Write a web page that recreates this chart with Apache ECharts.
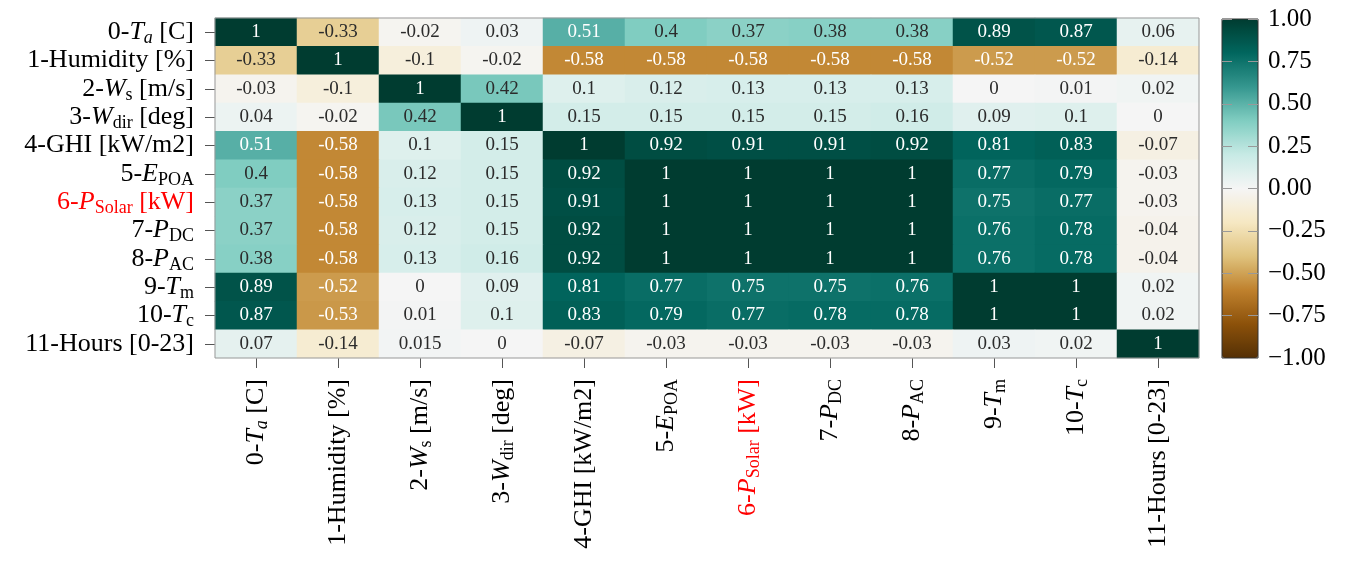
<!DOCTYPE html>
<html><head><meta charset="utf-8">
<script src="https://cdn.jsdelivr.net/npm/echarts@6/dist/echarts.min.js"></script>
<style>html,body{margin:0;padding:0;background:#fff}#c{width:1346px;height:564px}</style>
</head><body><div id="c"></div>
<script>
const categories = ['0-Ta [C]', '1-Humidity [%]', '2-Ws [m/s]', '3-Wdir [deg]', '4-GHI [kW/m2]', '5-EPOA', '6-PSolar [kW]', '7-PDC', '8-PAC', '9-Tm', '10-Tc', '11-Hours [0-23]'];
const categoryLabels = [
  '{n|0-}{i|T}{si|a}{n| [C]}',
  '{n|1-Humidity [%]}',
  '{n|2-}{i|W}{s|s}{n| [m/s]}',
  '{n|3-}{i|W}{s|dir}{n| [deg]}',
  '{n|4-GHI [kW/m2]}',
  '{n|5-}{i|E}{s|POA}',
  '{r|6-}{ri|P}{rs|Solar}{r| [kW]}',
  '{n|7-}{i|P}{s|DC}',
  '{n|8-}{i|P}{s|AC}',
  '{n|9-}{i|T}{s|m}',
  '{n|10-}{i|T}{s|c}',
  '{n|11-Hours [0-23]}'
];
const row0  = [1, -0.33, -0.02, 0.03, 0.51, 0.4, 0.37, 0.38, 0.38, 0.89, 0.87, 0.06];
const row1  = [-0.33, 1, -0.1, -0.02, -0.58, -0.58, -0.58, -0.58, -0.58, -0.52, -0.52, -0.14];
const row2  = [-0.03, -0.1, 1, 0.42, 0.1, 0.12, 0.13, 0.13, 0.13, 0, 0.01, 0.02];
const row3  = [0.04, -0.02, 0.42, 1, 0.15, 0.15, 0.15, 0.15, 0.16, 0.09, 0.1, 0];
const row4  = [0.51, -0.58, 0.1, 0.15, 1, 0.92, 0.91, 0.91, 0.92, 0.81, 0.83, -0.07];
const row5  = [0.4, -0.58, 0.12, 0.15, 0.92, 1, 1, 1, 1, 0.77, 0.79, -0.03];
const row6  = [0.37, -0.58, 0.13, 0.15, 0.91, 1, 1, 1, 1, 0.75, 0.77, -0.03];
const row7  = [0.37, -0.58, 0.12, 0.15, 0.92, 1, 1, 1, 1, 0.76, 0.78, -0.04];
const row8  = [0.38, -0.58, 0.13, 0.16, 0.92, 1, 1, 1, 1, 0.76, 0.78, -0.04];
const row9  = [0.89, -0.52, 0, 0.09, 0.81, 0.77, 0.75, 0.75, 0.76, 1, 1, 0.02];
const row10 = [0.87, -0.53, 0.01, 0.1, 0.83, 0.79, 0.77, 0.78, 0.78, 1, 1, 0.02];
const row11 = [0.07, -0.14, 0.015, 0, -0.07, -0.03, -0.03, -0.03, -0.03, 0.03, 0.02, 1];
const corr = [row0, row1, row2, row3, row4, row5, row6, row7, row8, row9, row10, row11];
const colorbarMin = -1, colorbarMax = 1, colorbarStep = 0.25;

const FONT = 'Liberation Serif';
const F = 26, FS = 18;
function richSet(){
  const base = {fontFamily: FONT, fontSize: F, color: '#000'};
  const sub = {fontFamily: FONT, fontSize: FS, color: '#000', padding: [12, 0, 0, 0]};
  return {
    n: base,
    i: Object.assign({}, base, {fontStyle: 'italic'}),
    s: sub,
    si: Object.assign({}, sub, {fontStyle: 'italic'}),
    r: Object.assign({}, base, {color: '#ff0000'}),
    ri: Object.assign({}, base, {color: '#ff0000', fontStyle: 'italic'}),
    rs: Object.assign({}, sub, {color: '#ff0000'})
  };
}
const BrBG = ['#543005','#8c510a','#bf812d','#dfc27d','#f6e8c3','#f5f5f5','#c7eae5','#80cdc1','#35978f','#01665e','#003c30'];

const data = [];
corr.forEach((row, y) => row.forEach((v, x) => {
  data.push({value: [x, y, v], label: {color: Math.abs(v) >= 0.5 ? '#ffffff' : '#2b2b2b'}});
}));

const chart = echarts.init(document.getElementById('c'), null, {renderer: 'canvas'});
chart.setOption({
  animation: false,
  backgroundColor: '#fff',
  grid: [
    {left: 215, top: 18, width: 984, height: 340, show: true, borderColor: '#999', borderWidth: 1, z: 10, backgroundColor: 'transparent'},
    {left: 1222, top: 19, width: 36, height: 339, show: true, borderColor: '#333', borderWidth: 1, z: 10, backgroundColor: 'transparent'}
  ],
  xAxis: [
    {type: 'category', gridIndex: 0, data: categories, position: 'bottom',
     axisLine: {show: false}, splitLine: {show: false},
     axisTick: {show: true, alignWithLabel: true, length: 10, lineStyle: {color: '#555'}},
     axisLabel: {interval: 0, rotate: 90, margin: 21, formatter: (v, i) => categoryLabels[i], rich: richSet()}},
    {type: 'category', gridIndex: 1, data: [''], show: false}
  ],
  yAxis: [
    {type: 'category', gridIndex: 0, data: categories, inverse: true,
     axisLine: {show: false}, splitLine: {show: false},
     axisTick: {show: true, alignWithLabel: true, length: 10, lineStyle: {color: '#555'}},
     axisLabel: {interval: 0, margin: 21, formatter: (v, i) => categoryLabels[i], rich: richSet()}},
    {type: 'value', gridIndex: 1, min: colorbarMin, max: colorbarMax, interval: colorbarStep, position: 'right', z: 10,
     axisLine: {show: false}, splitLine: {show: false},
     axisTick: {show: true, inside: true, length: 10, lineStyle: {color: '#999'}},
     axisLabel: {margin: 10, fontFamily: FONT, fontSize: 25, color: '#000',
       formatter: v => (v < 0 ? '\u2212' : '') + Math.abs(v).toFixed(2)}},
    {type: 'value', gridIndex: 1, min: colorbarMin, max: colorbarMax, interval: colorbarStep, position: 'left', z: 10,
     axisLine: {show: false}, splitLine: {show: false},
     axisTick: {show: true, inside: true, length: 10, lineStyle: {color: '#999'}},
     axisLabel: {show: false}}
  ],
  visualMap: {
    type: 'continuous', min: colorbarMin, max: colorbarMax, seriesIndex: 0,
    calculable: false, hoverLink: false, realtime: false,
    left: 1222, top: 19, itemWidth: 36, itemHeight: 339, padding: 0, z: 1,
    inRange: {color: BrBG}, textStyle: {color: 'transparent'}
  },
  series: [{
    type: 'heatmap', xAxisIndex: 0, yAxisIndex: 0, data: data,
    itemStyle: {borderWidth: 0},
    label: {show: true, fontFamily: FONT, fontSize: 19, formatter: p => String(p.value[2])},
    emphasis: {disabled: true}
  }]
});
</script>
</body></html>
